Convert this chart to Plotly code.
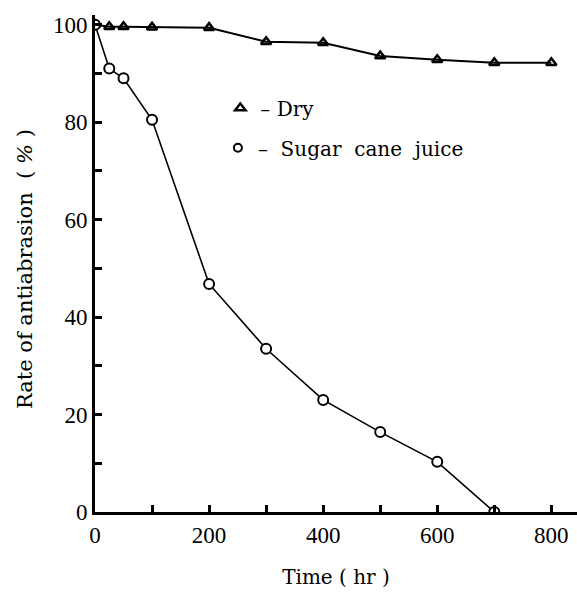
import plotly.graph_objects as go

time_dry = [0, 25, 50, 100, 200, 300, 400, 500, 600, 700, 800]
rate_dry = [100, 99.6, 99.6, 99.5, 99.4, 96.5, 96.3, 93.6, 92.8, 92.2, 92.2]

time_juice = [0, 25, 50, 100, 200, 300, 400, 500, 600, 700]
rate_juice = [100, 91, 89, 80.5, 46.8, 33.5, 23, 16.4, 10.3, 0]

x_ticks = [0, 200, 400, 600, 800]
y_ticks = [0, 20, 40, 60, 80, 100]

FONT = "Liberation Serif"
TFONT = "DejaVu Serif"

fig = go.Figure()

fig.add_trace(go.Scatter(
    x=time_dry, y=rate_dry, mode="lines+markers", showlegend=False,
    line=dict(color="black", width=2),
    marker=dict(symbol="triangle-up-open", size=9, color="black",
                line=dict(color="black", width=2.5)),
))
fig.add_trace(go.Scatter(
    x=time_juice, y=rate_juice, mode="lines+markers", showlegend=False,
    line=dict(color="black", width=1.6),
    marker=dict(symbol="circle", size=10, color="white",
                line=dict(color="black", width=2)),
))

# legend entries (symbol only)
fig.add_trace(go.Scatter(
    x=[None], y=[None], mode="markers", name="\u2013\u00a0Dry", legend="legend",
    marker=dict(symbol="triangle-up-open", size=9, color="black",
                line=dict(color="black", width=2.5)),
))
fig.add_trace(go.Scatter(
    x=[None], y=[None], mode="markers",
    name="\u2013\u00a0\u00a0Sugar\u00a0\u00a0cane\u00a0\u00a0juice", legend="legend2",
    marker=dict(symbol="circle", size=8, color="white",
                line=dict(color="black", width=2)),
))

fig.update_layout(
    width=577, height=592,
    paper_bgcolor="white", plot_bgcolor="white",
    margin=dict(l=95, r=0, t=15, b=80),
    font=dict(family=FONT, color="black", size=21),
    legend=dict(x=0.26, y=0.813, xanchor="left", yanchor="middle",
                bgcolor="rgba(0,0,0,0)", font=dict(size=20, family=TFONT),
                itemwidth=30),
    legend2=dict(x=0.255, y=0.733, xanchor="left", yanchor="middle",
                 bgcolor="rgba(0,0,0,0)", font=dict(size=20, family=TFONT),
                 itemwidth=30),
    annotations=[dict(
        text="Rate of antiabrasion  ( <i>%</i> )", textangle=-90,
        xref="paper", yref="paper", x=-0.145, y=0.489,
        xanchor="center", yanchor="middle", showarrow=False,
        font=dict(size=21, family=TFONT, color="black"),
    )],
)

fig.update_xaxes(
    range=[0, 845], showgrid=False, zeroline=False,
    showline=True, linecolor="black", linewidth=3,
    tickmode="array", tickvals=x_ticks, ticktext=[str(v) for v in x_ticks],
    ticks="inside", ticklen=7, tickwidth=2.5, tickcolor="black",
    minor=dict(dtick=100, ticks="inside", ticklen=7, tickwidth=2.5, tickcolor="black"),
    tickfont=dict(size=23, family=FONT),
    title=dict(text="Time ( hr )", font=dict(size=20, family=TFONT), standoff=24),
)
fig.update_yaxes(
    range=[0, 102], showgrid=False, zeroline=False,
    showline=True, linecolor="black", linewidth=3,
    tickmode="array", tickvals=y_ticks, ticktext=[str(v) for v in y_ticks],
    ticks="inside", ticklen=7, tickwidth=2.5, tickcolor="black",
    minor=dict(dtick=10, ticks="inside", ticklen=7, tickwidth=2.5, tickcolor="black"),
    tickfont=dict(size=23, family=FONT),
)

fig.write_html("out.html", config={"displayModeBar": False},
               post_script="document.body.style.margin='0';")
